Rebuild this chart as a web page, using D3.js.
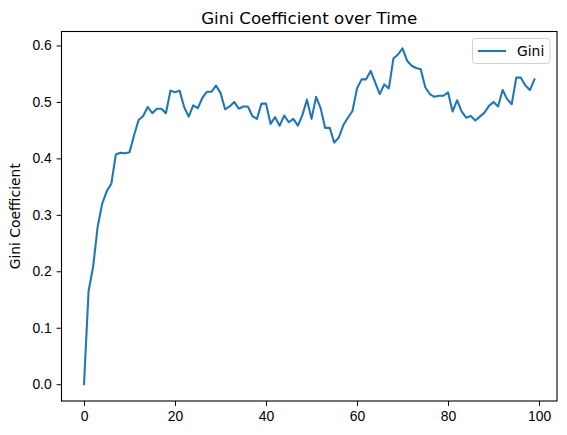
<!DOCTYPE html>
<html>
<head>
<meta charset="utf-8">
<script src="https://cdn.jsdelivr.net/npm/d3@7"></script>
<style>
  body { margin: 0; background: #fff; }
  svg { display: block; font-family: "DejaVu Sans", sans-serif; }
  .axis path, .axis line { stroke: #000; stroke-width: 1; }
  .axis text { font-size: 13.9px; fill: #000; }
</style>
</head>
<body>
<script>
// values
var steps = d3.range(0, 100);
var gini = [
  0.000, 0.165, 0.208, 0.279, 0.320, 0.342, 0.355, 0.407, 0.410, 0.409,
  0.411, 0.441, 0.468, 0.475, 0.491, 0.480, 0.488, 0.488, 0.480, 0.520,
  0.517, 0.520, 0.491, 0.474, 0.494, 0.489, 0.507, 0.518, 0.518, 0.529,
  0.516, 0.487, 0.492, 0.500, 0.488, 0.492, 0.492, 0.475, 0.470, 0.497,
  0.497, 0.461, 0.473, 0.458, 0.476, 0.464, 0.470, 0.458, 0.477, 0.504,
  0.470, 0.509, 0.489, 0.454, 0.454, 0.428, 0.437, 0.459, 0.472, 0.484,
  0.524, 0.540, 0.540, 0.555, 0.534, 0.514, 0.531, 0.524, 0.577, 0.584,
  0.595, 0.573, 0.564, 0.560, 0.558, 0.526, 0.514, 0.509, 0.511, 0.511,
  0.517, 0.483, 0.503, 0.483, 0.472, 0.475, 0.467, 0.474, 0.481, 0.493,
  0.500, 0.492, 0.521, 0.505, 0.496, 0.543, 0.543, 0.529, 0.521, 0.540
];
var xTicks = [0, 20, 40, 60, 80, 100];
var yTicks = [0.0, 0.1, 0.2, 0.3, 0.4, 0.5, 0.6];
var seriesName = "Gini";

var W = 567, H = 435;
var m = { t: 31.5, r: 10, b: 34, l: 61.5 },
  width = W - m.l - m.r,
  height = H - m.t - m.b;

var xPad = (d3.max(steps) - d3.min(steps)) * 0.05;
var x = d3.scaleLinear()
  .domain([d3.min(steps) - xPad, d3.max(steps) + xPad])
  .range([0, width]);

var yExt = d3.extent(gini);
var yPad = (yExt[1] - yExt[0]) * 0.05;
var y = d3.scaleLinear()
  .domain([yExt[0] - yPad, yExt[1] + yPad])
  .range([height, 0]);

var svg = d3.select("body").append("svg")
  .attr("width", W)
  .attr("height", H);

var g = svg.append("g")
  .attr("transform", "translate(" + m.l + "," + m.t + ")");

var xAxis = d3.axisBottom(x).tickValues(xTicks).tickFormat(d3.format("d"))
  .tickSizeInner(4.9).tickSizeOuter(0).tickPadding(4.9);
var yAxis = d3.axisLeft(y).tickValues(yTicks).tickFormat(d3.format(".1f"))
  .tickSizeInner(4.9).tickSizeOuter(0).tickPadding(4.9);

g.append("g")
  .attr("class", "x axis")
  .attr("transform", "translate(0," + height + ")")
  .call(xAxis)
  .call(function(s) { s.select(".domain").remove(); });

g.append("g")
  .attr("class", "y axis")
  .call(yAxis)
  .call(function(s) { s.select(".domain").remove(); });

var line = d3.line()
  .x(function(d, i) { return x(steps[i]); })
  .y(function(d) { return y(d); });

g.append("path")
  .datum(gini)
  .attr("fill", "none")
  .attr("stroke", "#1f77b4")
  .attr("stroke-width", 2.08)
  .attr("stroke-linejoin", "round")
  .attr("stroke-linecap", "square")
  .attr("d", line);

// frame
g.append("rect")
  .attr("width", width)
  .attr("height", height)
  .attr("fill", "none")
  .attr("stroke", "#000")
  .attr("stroke-width", 1.1);

// title and y label
svg.append("text")
  .attr("x", m.l + width / 2)
  .attr("y", m.t - 8)
  .attr("text-anchor", "middle")
  .style("font-size", "16.7px")
  .text("Gini Coefficient over Time");

svg.append("text")
  .attr("transform", "translate(20," + (m.t + height / 2) + ") rotate(-90)")
  .attr("text-anchor", "middle")
  .style("font-size", "13.9px")
  .text("Gini Coefficient");

// legend
var legend = g.append("g")
  .attr("transform", "translate(" + (width - 7 - 77.5) + ",7)");

legend.append("rect")
  .attr("width", 77.5)
  .attr("height", 25)
  .attr("rx", 3)
  .attr("fill", "#fff")
  .attr("fill-opacity", 0.8)
  .attr("stroke", "#d0d0d0");

legend.append("line")
  .attr("x1", 5.5).attr("x2", 33.5)
  .attr("y1", 12.5).attr("y2", 12.5)
  .attr("stroke", "#1f77b4")
  .attr("stroke-width", 2.08);

legend.append("text")
  .attr("x", 44.5)
  .attr("y", 12.5)
  .attr("dy", "0.35em")
  .style("font-size", "13.9px")
  .text(seriesName);
</script>
</body>
</html>
